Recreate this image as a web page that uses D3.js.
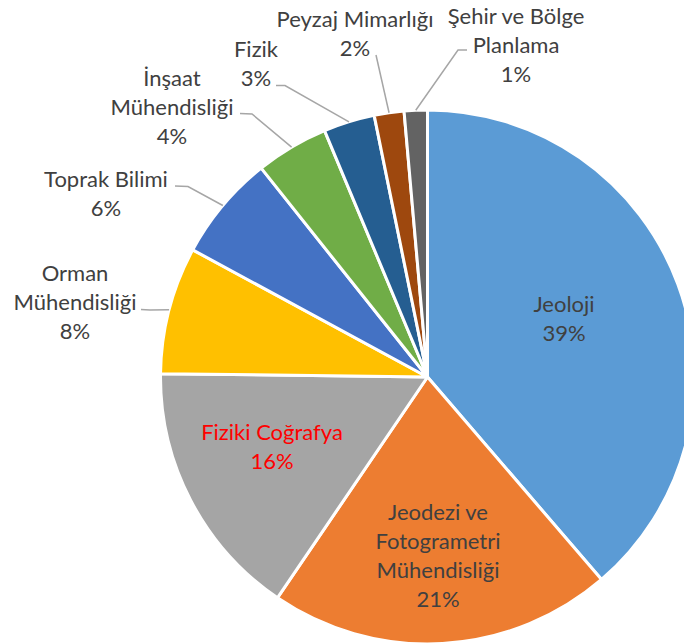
<!DOCTYPE html>
<html>
<head>
<meta charset="utf-8">
<script src="https://cdn.jsdelivr.net/npm/d3@7"></script>
<style>
  html, body { margin: 0; padding: 0; background: #fff; }
  svg { display: block; }
  text { font-family: "Lato", "Open Sans", sans-serif; }
</style>
</head>
<body>
<svg id="chart" width="684" height="644"></svg>
<script>
// ---- data ----
const categories = [
  "Jeoloji",
  "Jeodezi ve\nFotogrametri\nMühendisliği",
  "Fiziki Coğrafya",
  "Orman\nMühendisliği",
  "Toprak Bilimi",
  "İnşaat\nMühendisliği",
  "Fizik",
  "Peyzaj Mimarlığı",
  "Şehir ve Bölge\nPlanlama"
];
const values = [38.7, 20.8, 15.7, 7.7, 6.4, 4.4, 3.1, 1.8, 1.4];
const colors = ["#5B9BD5", "#ED7D31", "#A5A5A5", "#FFC000", "#4472C4",
                "#70AD47", "#255E91", "#9E480E", "#636363"];
const labelColors = ["#404040", "#404040", "#FF0000", "#404040", "#404040",
                     "#404040", "#404040", "#404040", "#404040"];

// ---- layout (positions only) ----
const W = 684, H = 644;
const cx = 427.5, cy = 377, R = 267;
const lineH = 29;
// label anchor: x centre, y of first baseline; leader: points from label toward slice
const labelLayout = [
  { x: 564, y: 312, inside: true },
  { x: 438, y: 520, inside: true },
  { x: 272, y: 440, inside: true },
  { x: 75,  y: 281, leader: [[141, 309.5], [150, 310]] },
  { x: 106, y: 187, leader: [[175, 186], [188, 186.5]] },
  { x: 172, y: 86,  leader: [[240, 113.5], [252, 114]] },
  { x: 256, y: 57,  leader: [[276, 85.5], [285, 85.5]] },
  { x: 355, y: 27,  leader: [[376, 55], [376, 55]] },
  { x: 516, y: 24,  leader: [[467, 50], [458, 50]] }
];

const data = categories.map((c, i) => ({ name: c, value: values[i], color: colors[i], i }));
const total = d3.sum(values);

const svg = d3.select("#chart");
const g = svg.append("g").attr("transform", `translate(${cx},${cy})`);

const pie = d3.pie().value(d => d.value).sort(null).startAngle(0).endAngle(2 * Math.PI);
const arc = d3.arc().innerRadius(0).outerRadius(R);
const arcs = pie(data);

g.selectAll("path.slice")
  .data(arcs)
  .join("path")
  .attr("class", "slice")
  .attr("d", arc)
  .attr("fill", d => d.data.color)
  .attr("stroke", "#fff")
  .attr("stroke-width", 3)
  .attr("stroke-linejoin", "round");

// leader lines: from label points to the slice's outer edge at mid-angle
const edgeArc = d3.arc().innerRadius(R).outerRadius(R);
const lineGen = d3.line();
arcs.forEach(a => {
  const lay = labelLayout[a.data.i];
  if (!lay.leader) return;
  const mid = (a.startAngle + a.endAngle) / 2;
  const ex = cx + R * Math.sin(mid);
  const ey = cy - R * Math.cos(mid);
  const pts = lay.leader.concat([[ex, ey]]);
  svg.append("path")
    .attr("d", lineGen(pts))
    .attr("fill", "none")
    .attr("stroke", "#A6A6A6")
    .attr("stroke-width", 1.5);
});

// labels
arcs.forEach(a => {
  const lay = labelLayout[a.data.i];
  const pct = Math.round(a.data.value / total * 100) + "%";
  const lines = a.data.name.split("\n").concat([pct]);
  const t = svg.append("text")
    .attr("text-anchor", "middle")
    .attr("fill", labelColors[a.data.i])
    .attr("font-size", 22);
  lines.forEach((ln, k) => {
    t.append("tspan")
      .attr("x", lay.x)
      .attr("y", lay.y + k * lineH)
      .text(ln);
  });
});
</script>
</body>
</html>
